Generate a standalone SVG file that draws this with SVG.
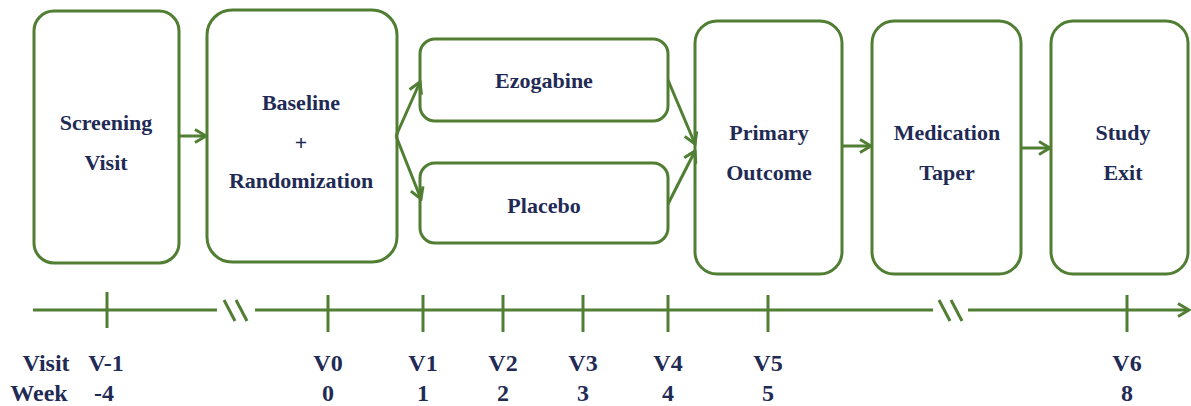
<svg xmlns="http://www.w3.org/2000/svg" width="1191" height="406" viewBox="0 0 1191 406">
<style>
.box{fill:#fff;stroke:#507e32;stroke-width:3}
.ln{fill:none;stroke:#507e32;stroke-width:3}
.t{font-family:"Liberation Serif","Times New Roman",serif;font-weight:bold;font-size:22px;fill:#1f2b55;text-anchor:middle}
.tl{font-family:"Liberation Serif","Times New Roman",serif;font-weight:bold;font-size:24px;fill:#1f2b55;text-anchor:middle}
</style>
<defs>
<marker id="ah" markerUnits="userSpaceOnUse" markerWidth="16" markerHeight="16" viewBox="0 0 16 16" refX="14" refY="8" orient="auto">
<path d="M3,1.5 L14,8 L3,14.5" fill="none" stroke="#507e32" stroke-width="3"/>
</marker>
</defs>
<rect width="1191" height="406" fill="#fff"/>
<g id="screening">
<rect class="box" x="34" y="11" width="145" height="252" rx="20"/>
<text class="t" x="106" y="130">Screening</text>
<text class="t" x="106" y="170">Visit</text>
</g>
<g id="baseline">
<rect class="box" x="207" y="10" width="190" height="252" rx="25"/>
<text class="t" x="301" y="110">Baseline</text>
<text class="t" x="301" y="150">+</text>
<text class="t" x="301" y="188">Randomization</text>
</g>
<g id="ezogabine">
<rect class="box" x="420" y="39" width="248" height="82" rx="15"/>
<text class="t" x="544" y="88">Ezogabine</text>
</g>
<g id="placebo">
<rect class="box" x="420" y="163" width="248" height="80" rx="15"/>
<text class="t" x="544" y="213">Placebo</text>
</g>
<g id="primary">
<rect class="box" x="695" y="21" width="147" height="253" rx="22"/>
<text class="t" x="769" y="140">Primary</text>
<text class="t" x="769" y="180">Outcome</text>
</g>
<g id="taper">
<rect class="box" x="872" y="21" width="149" height="253" rx="22"/>
<text class="t" x="947" y="140">Medication</text>
<text class="t" x="947" y="180">Taper</text>
</g>
<g id="exit">
<rect class="box" x="1051" y="21" width="137" height="253" rx="22"/>
<text class="t" x="1123" y="140">Study</text>
<text class="t" x="1123" y="180">Exit</text>
</g>
<g id="connectors">
<line class="ln" x1="179" y1="136" x2="206" y2="136" marker-end="url(#ah)"/>
<line class="ln" x1="396" y1="136" x2="420" y2="82" marker-end="url(#ah)"/>
<line class="ln" x1="396" y1="136" x2="421" y2="199" marker-end="url(#ah)"/>
<line class="ln" x1="668" y1="80" x2="695" y2="144" marker-end="url(#ah)"/>
<line class="ln" x1="668" y1="204" x2="695" y2="151" marker-end="url(#ah)"/>
<line class="ln" x1="842" y1="146" x2="871" y2="146" marker-end="url(#ah)"/>
<line class="ln" x1="1021" y1="148" x2="1050" y2="148" marker-end="url(#ah)"/>
</g>
<g id="timeline">
<line class="ln" x1="33" y1="310" x2="217" y2="310"/>
<line class="ln" x1="224" y1="300" x2="235" y2="321"/>
<line class="ln" x1="236" y1="300" x2="247" y2="321"/>
<line class="ln" x1="255" y1="310" x2="933" y2="310"/>
<line class="ln" x1="939" y1="300" x2="950" y2="321"/>
<line class="ln" x1="951" y1="300" x2="962" y2="321"/>
<line class="ln" x1="968" y1="310" x2="1189" y2="310" marker-end="url(#ah)"/>
<line class="ln" x1="107" y1="292" x2="107" y2="328"/>
<line class="ln" x1="328" y1="295" x2="328" y2="332"/>
<line class="ln" x1="423" y1="295" x2="423" y2="332"/>
<line class="ln" x1="503" y1="295" x2="503" y2="332"/>
<line class="ln" x1="583" y1="295" x2="583" y2="332"/>
<line class="ln" x1="668" y1="295" x2="668" y2="332"/>
<line class="ln" x1="768" y1="295" x2="768" y2="332"/>
<line class="ln" x1="1127" y1="295" x2="1127" y2="332"/>
</g>
<g id="labels">
<text class="tl" x="46" y="371">Visit</text>
<text class="tl" x="106" y="371">V-1</text>
<text class="tl" x="328" y="371">V0</text>
<text class="tl" x="423" y="371">V1</text>
<text class="tl" x="503" y="371">V2</text>
<text class="tl" x="583" y="371">V3</text>
<text class="tl" x="668" y="371">V4</text>
<text class="tl" x="768" y="371">V5</text>
<text class="tl" x="1127" y="371">V6</text>
<text class="tl" x="39" y="401">Week</text>
<text class="tl" x="104" y="401">-4</text>
<text class="tl" x="328" y="401">0</text>
<text class="tl" x="423" y="401">1</text>
<text class="tl" x="503" y="401">2</text>
<text class="tl" x="583" y="401">3</text>
<text class="tl" x="668" y="401">4</text>
<text class="tl" x="768" y="401">5</text>
<text class="tl" x="1127" y="401">8</text>
</g>
</svg>
